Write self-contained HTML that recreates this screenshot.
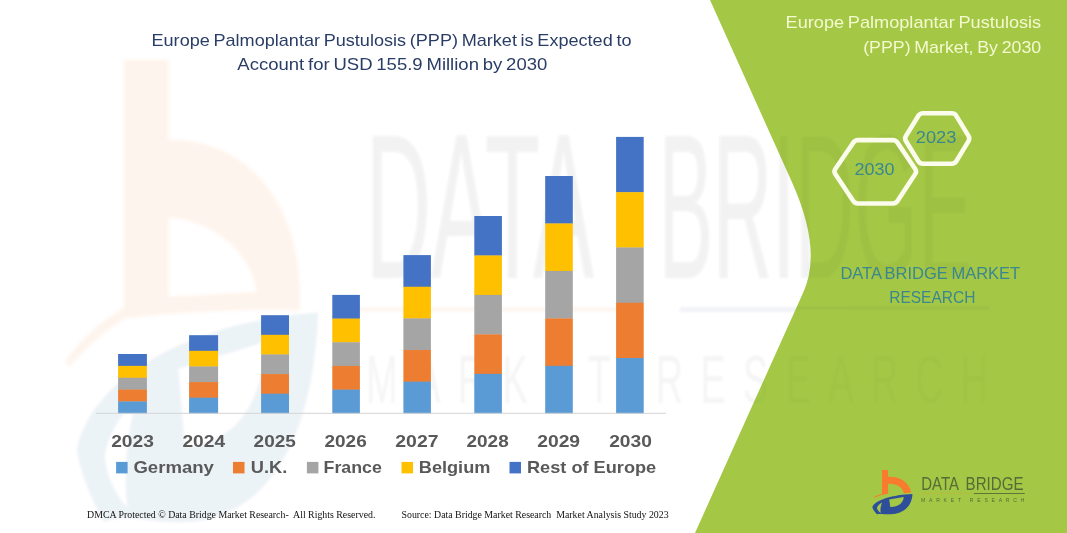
<!DOCTYPE html>
<html lang="en">
<head>
<meta charset="utf-8">
<title>Europe Palmoplantar Pustulosis (PPP) Market</title>
<style>
html,body{margin:0;padding:0;background:#fff;}
body{width:1067px;height:533px;overflow:hidden;}
svg{display:block;}
text{font-family:"Liberation Sans",sans-serif;}
.serif{font-family:"Liberation Serif",serif;}
.b{font-weight:bold;}
</style>
</head>
<body>
<svg width="1067" height="533" viewBox="0 0 1067 533">
<rect width="1067" height="533" fill="#ffffff"/>
<filter id="bl" x="-5%" y="-5%" width="110%" height="110%"><feGaussianBlur stdDeviation="1.2"/></filter>
<filter id="bl2" x="-5%" y="-5%" width="110%" height="110%"><feGaussianBlur stdDeviation="1.5"/></filter>
<clipPath id="gp"><path d="M710,0 L792.35,183 Q823,252 802.55,294 L695,533 L1067,533 L1067,0 Z"/></clipPath>
<!-- watermark -->
<g filter="url(#bl)">
<path fill="#F47B30" opacity="0.085" fill-rule="evenodd" filter="url(#bl2)" d="M124,60 H168.5 V140 C240,139 296,192 300,290 L300,310 C240,308 180,312 126,318 C105,330 85,348 69,367 L65,362 C80,340 100,322 124,308 Z M168.5,217 C217,221 252,255 257,292 L168.5,297 Z"/>
<path transform="translate(-5157,-4826) scale(6,10.4)" fill="#2E4E9A" opacity="0.075" fill-rule="evenodd" d="M872.32,507.25 C875.13,499.71 893.14,494.87 912.51,494.08 C911.61,507.59 902.71,513.78 890.89,514.23 C884.70,514.46 880.76,513.33 876.82,514.23 C874.57,511.76 872.88,509.51 872.32,507.25 Z M889.20,499.49 L903.73,496.90 C903.28,502.98 898.77,506.58 890.33,507.03 Z M876.93,507.93 C877.61,505.68 879.86,503.65 882.11,502.53 C880.54,506.47 880.08,509.84 880.76,512.88 C878.96,511.76 877.38,510.18 876.93,507.93 Z"/>
<g transform="translate(-5161,-5116.4) scale(6,11)"><text x="921" y="490.4" font-size="18.7" fill="#444" opacity="0.07"><tspan x="921.1" textLength="38" lengthAdjust="spacingAndGlyphs">DATA</tspan> <tspan x="969.9" textLength="52.4" lengthAdjust="spacingAndGlyphs">BRIDGE</tspan></text><text x="921.2" y="501.76" font-size="6.3" textLength="103.6" lengthAdjust="spacing" fill="#444" opacity="0.04">MARKET RESEARCH</text></g>
<rect x="345" y="307.5" width="300" height="4" fill="#F47B30" opacity="0.08"/>
<rect x="680" y="307.5" width="310" height="4" fill="#2E4E9A" opacity="0.08"/>
</g>
<!-- green panel -->
<path fill="#A4C846" d="M710,0 L792.35,183 Q823,252 802.55,294 L695,533 L1067,533 L1067,0 Z"/>
<g clip-path="url(#gp)"><g filter="url(#bl)" opacity="0.03"><g transform="translate(-5161,-5116.4) scale(6,11)"><text x="921" y="490.4" font-size="18.7" fill="#000"><tspan x="921.1" textLength="38" lengthAdjust="spacingAndGlyphs">DATA</tspan> <tspan x="969.9" textLength="52.4" lengthAdjust="spacingAndGlyphs">BRIDGE</tspan></text><text x="921.2" y="501.76" font-size="6.3" textLength="103.6" lengthAdjust="spacing" fill="#000" opacity="0.7">MARKET RESEARCH</text></g><rect x="680" y="306" width="310" height="4" fill="#000"/></g></g>
<!-- chart -->
<rect x="118.1" y="354.00" width="28.8" height="12.16" fill="#4472C4"/>
<rect x="118.1" y="365.86" width="28.8" height="12.16" fill="#FFC000"/>
<rect x="118.1" y="377.72" width="28.8" height="12.16" fill="#A5A5A5"/>
<rect x="118.1" y="389.58" width="28.8" height="12.16" fill="#ED7D31"/>
<rect x="118.1" y="401.44" width="28.8" height="12.16" fill="#5B9BD5"/>
<rect x="189.1" y="335.20" width="29.0" height="15.92" fill="#4472C4"/>
<rect x="189.1" y="350.82" width="29.0" height="15.92" fill="#FFC000"/>
<rect x="189.1" y="366.44" width="29.0" height="15.92" fill="#A5A5A5"/>
<rect x="189.1" y="382.06" width="29.0" height="15.92" fill="#ED7D31"/>
<rect x="189.1" y="397.68" width="29.0" height="15.92" fill="#5B9BD5"/>
<rect x="261.1" y="315.20" width="27.9" height="19.92" fill="#4472C4"/>
<rect x="261.1" y="334.82" width="27.9" height="19.92" fill="#FFC000"/>
<rect x="261.1" y="354.44" width="27.9" height="19.92" fill="#A5A5A5"/>
<rect x="261.1" y="374.06" width="27.9" height="19.92" fill="#ED7D31"/>
<rect x="261.1" y="393.68" width="27.9" height="19.92" fill="#5B9BD5"/>
<rect x="332.3" y="294.90" width="27.6" height="23.98" fill="#4472C4"/>
<rect x="332.3" y="318.58" width="27.6" height="23.98" fill="#FFC000"/>
<rect x="332.3" y="342.26" width="27.6" height="23.98" fill="#A5A5A5"/>
<rect x="332.3" y="365.94" width="27.6" height="23.98" fill="#ED7D31"/>
<rect x="332.3" y="389.62" width="27.6" height="23.98" fill="#5B9BD5"/>
<rect x="403.4" y="255.10" width="27.5" height="31.94" fill="#4472C4"/>
<rect x="403.4" y="286.74" width="27.5" height="31.94" fill="#FFC000"/>
<rect x="403.4" y="318.38" width="27.5" height="31.94" fill="#A5A5A5"/>
<rect x="403.4" y="350.02" width="27.5" height="31.94" fill="#ED7D31"/>
<rect x="403.4" y="381.66" width="27.5" height="31.94" fill="#5B9BD5"/>
<rect x="474.3" y="216.00" width="27.6" height="39.76" fill="#4472C4"/>
<rect x="474.3" y="255.46" width="27.6" height="39.76" fill="#FFC000"/>
<rect x="474.3" y="294.92" width="27.6" height="39.76" fill="#A5A5A5"/>
<rect x="474.3" y="334.38" width="27.6" height="39.76" fill="#ED7D31"/>
<rect x="474.3" y="373.84" width="27.6" height="39.76" fill="#5B9BD5"/>
<rect x="545.2" y="176.00" width="27.6" height="47.76" fill="#4472C4"/>
<rect x="545.2" y="223.46" width="27.6" height="47.76" fill="#FFC000"/>
<rect x="545.2" y="270.92" width="27.6" height="47.76" fill="#A5A5A5"/>
<rect x="545.2" y="318.38" width="27.6" height="47.76" fill="#ED7D31"/>
<rect x="545.2" y="365.84" width="27.6" height="47.76" fill="#5B9BD5"/>
<rect x="616.1" y="136.90" width="27.6" height="55.58" fill="#4472C4"/>
<rect x="616.1" y="192.18" width="27.6" height="55.58" fill="#FFC000"/>
<rect x="616.1" y="247.46" width="27.6" height="55.58" fill="#A5A5A5"/>
<rect x="616.1" y="302.74" width="27.6" height="55.58" fill="#ED7D31"/>
<rect x="616.1" y="358.02" width="27.6" height="55.58" fill="#5B9BD5"/>
<rect x="96" y="412.8" width="570" height="1" fill="#D4D4D4"/>
<text class="b" x="111.2" y="446.6" font-size="16.3" textLength="42.7" lengthAdjust="spacingAndGlyphs" fill="#595959">2023</text>
<text class="b" x="182.4" y="446.6" font-size="16.3" textLength="42.7" lengthAdjust="spacingAndGlyphs" fill="#595959">2024</text>
<text class="b" x="253.6" y="446.6" font-size="16.3" textLength="42.2" lengthAdjust="spacingAndGlyphs" fill="#595959">2025</text>
<text class="b" x="324.5" y="446.6" font-size="16.3" textLength="42.2" lengthAdjust="spacingAndGlyphs" fill="#595959">2026</text>
<text class="b" x="395.3" y="446.6" font-size="16.3" textLength="43.2" lengthAdjust="spacingAndGlyphs" fill="#595959">2027</text>
<text class="b" x="466.5" y="446.6" font-size="16.3" textLength="42.2" lengthAdjust="spacingAndGlyphs" fill="#595959">2028</text>
<text class="b" x="537.2" y="446.6" font-size="16.3" textLength="42.9" lengthAdjust="spacingAndGlyphs" fill="#595959">2029</text>
<text class="b" x="609.2" y="446.6" font-size="16.3" textLength="42.7" lengthAdjust="spacingAndGlyphs" fill="#595959">2030</text>
<rect x="116.1" y="461.9" width="11.5" height="11.5" fill="#5B9BD5"/>
<text class="b" x="133.4" y="472.7" font-size="16.6" textLength="80.5" lengthAdjust="spacingAndGlyphs" fill="#595959">Germany</text>
<rect x="233.0" y="461.9" width="11.5" height="11.5" fill="#ED7D31"/>
<text class="b" x="250.8" y="472.7" font-size="16.6" textLength="36.5" lengthAdjust="spacingAndGlyphs" fill="#595959">U.K.</text>
<rect x="306.9" y="461.9" width="11.5" height="11.5" fill="#A5A5A5"/>
<text class="b" x="323.6" y="472.7" font-size="16.6" textLength="58.3" lengthAdjust="spacingAndGlyphs" fill="#595959">France</text>
<rect x="401.5" y="461.9" width="11.5" height="11.5" fill="#FFC000"/>
<text class="b" x="418.8" y="472.7" font-size="16.6" textLength="71.6" lengthAdjust="spacingAndGlyphs" fill="#595959">Belgium</text>
<rect x="509.5" y="461.9" width="11.5" height="11.5" fill="#4472C4"/>
<text class="b" x="527.0" y="472.7" font-size="16.6" textLength="129.2" lengthAdjust="spacingAndGlyphs" fill="#595959">Rest of Europe</text>
<!-- titles -->
<text x="151.5" y="45.8" font-size="16.4" word-spacing="-1.2" textLength="480" lengthAdjust="spacingAndGlyphs" fill="#2A3D66">Europe Palmoplantar Pustulosis (PPP) Market is Expected to</text>
<text x="237.3" y="69.6" font-size="16.4" word-spacing="-1.2" textLength="310" lengthAdjust="spacingAndGlyphs" fill="#2A3D66">Account for USD 155.9 Million by 2030</text>
<text x="785.6" y="27.8" font-size="17" word-spacing="-1.2" textLength="255.6" lengthAdjust="spacingAndGlyphs" fill="#F4F9CF">Europe Palmoplantar Pustulosis</text>
<text x="863.2" y="52.9" font-size="17" word-spacing="-1.2" textLength="178" lengthAdjust="spacingAndGlyphs" fill="#F4F9CF">(PPP) Market, By 2030</text>
<!-- hexagons -->
<path d="M835.3,174.0 Q833.6,171.5 835.3,169.0 L853.3,142.6 Q855.0,140.1 858.0,140.1 L892.8,140.1 Q895.8,140.1 897.5,142.6 L915.2,169.0 Q916.9,171.5 915.2,174.0 L897.5,201.0 Q895.8,203.5 892.8,203.5 L858.0,203.5 Q855.0,203.5 853.3,201.0 Z" fill="none" stroke="#FBFCEC" stroke-width="4.6" stroke-linejoin="round"/>
<path d="M905.9,141.0 Q904.3,138.5 905.9,136.0 L918.4,115.8 Q920.0,113.3 923.0,113.3 L951.8,113.3 Q954.8,113.3 956.3,115.9 L968.5,135.9 Q970.0,138.5 968.5,141.1 L956.3,161.2 Q954.8,163.8 951.8,163.8 L923.0,163.8 Q920.0,163.8 918.4,161.3 Z" fill="none" stroke="#FBFCEC" stroke-width="4.6" stroke-linejoin="round"/>
<text x="854.6" y="175.4" font-size="17.3" textLength="40" lengthAdjust="spacingAndGlyphs" fill="#3A8790">2030</text>
<text x="915.8" y="143.4" font-size="17.3" textLength="40.6" lengthAdjust="spacingAndGlyphs" fill="#3A8790">2023</text>
<text x="840.4" y="278.9" font-size="16" word-spacing="-1" textLength="179.8" lengthAdjust="spacingAndGlyphs" fill="#3A8790">DATA BRIDGE MARKET</text>
<text x="889.2" y="303.2" font-size="16" textLength="86.2" lengthAdjust="spacingAndGlyphs" fill="#3A8790">RESEARCH</text>
<!-- footers -->
<text class="serif" x="87.1" y="518" font-size="9.3" textLength="288.3" lengthAdjust="spacingAndGlyphs" fill="#111" xml:space="preserve">DMCA Protected © Data Bridge Market Research-  All Rights Reserved.</text>
<text class="serif" x="401.5" y="517.8" font-size="9.3" textLength="267.1" lengthAdjust="spacingAndGlyphs" fill="#111" xml:space="preserve">Source: Data Bridge Market Research  Market Analysis Study 2023</text>
<!-- logo -->
<path fill="#F97C2E" d="M881.89,469.88 L888.08,469.88 L888.08,476.86 C897.65,475.73 909.13,481.14 911.16,492.40 L903.84,493.30 C902.71,486.99 895.96,483.39 888.08,483.84 L888.08,493.75 C883.01,494.65 878.51,495.77 874.57,497.80 L874.01,497.12 C876.82,495.21 879.63,494.42 881.89,493.97 Z"/>
<path fill="#2E4E9A" fill-rule="evenodd" d="M872.32,507.25 C875.13,499.71 893.14,494.87 912.51,494.08 C911.61,507.59 902.71,513.78 890.89,514.23 C884.70,514.46 880.76,513.33 876.82,514.23 C874.57,511.76 872.88,509.51 872.32,507.25 Z M889.20,499.49 L903.73,496.90 C903.28,502.98 898.77,506.58 890.33,507.03 Z M876.93,507.93 C877.61,505.68 879.86,503.65 882.11,502.53 C880.54,506.47 880.08,509.84 880.76,512.88 C878.96,511.76 877.38,510.18 876.93,507.93 Z"/>
<text x="921" y="490.1" font-size="18.4" fill="#566B36"><tspan x="921.3" textLength="36.9" lengthAdjust="spacingAndGlyphs">DATA</tspan> <tspan x="965.6" textLength="58" lengthAdjust="spacingAndGlyphs">BRIDGE</tspan></text>
<text x="921" y="501.9" font-size="5.1" textLength="103.4" lengthAdjust="spacing" fill="#566B36">MARKET RESEARCH</text>
<rect x="973.8" y="493.1" width="51" height="0.9" fill="#566B36"/>
<rect x="921" y="493.1" width="50" height="0.7" fill="#C9B13C" opacity="0.7"/>
</svg>
</body>
</html>
